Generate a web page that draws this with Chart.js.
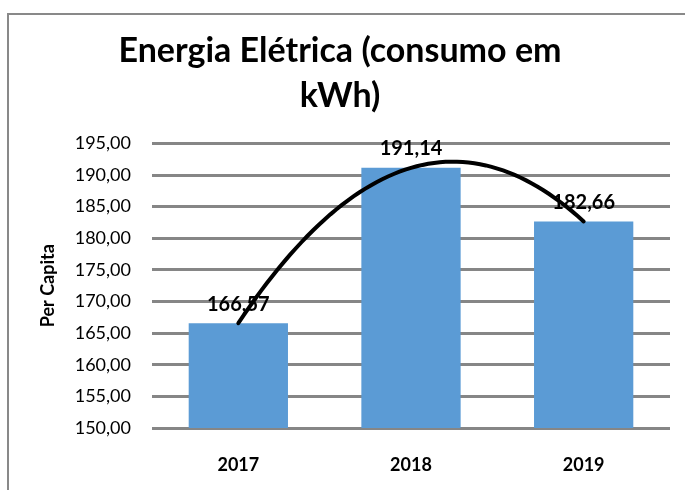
<!DOCTYPE html>
<html>
<head>
<meta charset="utf-8">
<script src="https://cdn.jsdelivr.net/npm/chart.js@4/dist/chart.umd.min.js"></script>
<style>
  html, body { margin: 0; padding: 0; background: #fff; overflow: hidden; }
  #wrap { position: relative; width: 685px; height: 490px; overflow: hidden; }
  #frame { position: absolute; left: 7px; top: 13px; width: 700px; height: 500px;
           border: 2px solid #898989; box-sizing: border-box; pointer-events: none; }
  canvas { position: absolute; left: 0; top: 0; }
</style>
</head>
<body>
<div id="wrap">
  <canvas id="chart" width="685" height="490"></canvas>
  <div id="frame"></div>
</div>
<script>
const years = ['2017', '2018', '2019'];
const perCapita = [166.57, 191.14, 182.66];
const yMin = 150;
const yMax = 195;
const yStep = 5;
const titleLines = ['Energia Elétrica (consumo em', 'kWh)'];

const FONT = 'Lato, "Noto Sans", sans-serif';
const fmt = v => v.toFixed(2).replace('.', ',');

// value labels above each bar
const valueLabels = {
  id: 'valueLabels',
  afterDatasetsDraw(chart) {
    const ctx = chart.ctx;
    const meta = chart.getDatasetMeta(0);
    ctx.save();
    ctx.font = 'bold 20px ' + FONT;
    ctx.fillStyle = '#000';
    ctx.textAlign = 'center';
    ctx.textBaseline = 'middle';
    meta.data.forEach((bar, i) => {
      ctx.fillText(fmt(perCapita[i]), bar.x, bar.y - 19);
    });
    ctx.restore();
  }
};

// polynomial (order 2) trendline, like the spreadsheet one
const trendLine = {
  id: 'trendLine',
  afterDatasetsDraw(chart) {
    const xs = chart.scales.x, ys = chart.scales.y;
    const n = perCapita.length;
    // least squares fit y = a + b*t + c*t^2, t = index
    let s = [0, 0, 0, 0, 0], r = [0, 0, 0];
    perCapita.forEach((y, t) => {
      for (let k = 0; k < 5; k++) s[k] += Math.pow(t, k);
      for (let k = 0; k < 3; k++) r[k] += y * Math.pow(t, k);
    });
    const M = [[s[0], s[1], s[2], r[0]], [s[1], s[2], s[3], r[1]], [s[2], s[3], s[4], r[2]]];
    for (let i = 0; i < 3; i++) {
      for (let j = i + 1; j < 3; j++) {
        const f = M[j][i] / M[i][i];
        for (let k = i; k < 4; k++) M[j][k] -= f * M[i][k];
      }
    }
    const c = [0, 0, 0];
    for (let i = 2; i >= 0; i--) {
      let v = M[i][3];
      for (let k = i + 1; k < 3; k++) v -= M[i][k] * c[k];
      c[i] = v / M[i][i];
    }
    const ctx = chart.ctx;
    ctx.save();
    ctx.strokeStyle = '#000';
    ctx.lineWidth = 4;
    ctx.lineCap = 'round';
    ctx.beginPath();
    const steps = 60;
    for (let i = 0; i <= steps; i++) {
      const t = (n - 1) * i / steps;
      const px = xs.getPixelForValue(t);
      const py = ys.getPixelForValue(c[0] + c[1] * t + c[2] * t * t);
      if (i === 0) ctx.moveTo(px, py); else ctx.lineTo(px, py);
    }
    ctx.stroke();
    ctx.restore();
  }
};

new Chart(document.getElementById('chart'), {
  type: 'bar',
  data: {
    labels: years,
    datasets: [{
      data: perCapita,
      backgroundColor: '#5b9bd5',
      borderWidth: 0,
      categoryPercentage: 1,
      barPercentage: 0.575
    }]
  },
  options: {
    responsive: false,
    animation: false,
    layout: { padding: { left: 10, right: 15, top: 0, bottom: 0 } },
    plugins: {
      legend: { display: false },
      tooltip: { enabled: false },
      title: {
        display: true,
        text: titleLines,
        color: '#000',
        font: { family: FONT, size: 34, weight: 'bold', lineHeight: 1.33 },
        padding: { top: 28, bottom: 25 }
      }
    },
    scales: {
      x: {
        grid: { display: false },
        border: { display: false },
        ticks: { color: '#000', padding: 18, font: { family: FONT, size: 18, weight: 'bold' } },
        afterFit(scale) { scale.height = 62; }
      },
      y: {
        min: yMin,
        max: yMax,
        border: { display: false },
        grid: { color: '#868686', lineWidth: 3, drawTicks: false },
        ticks: {
          stepSize: yStep,
          color: '#000',
          padding: 21,
          font: { family: FONT, size: 18 },
          callback: v => fmt(v)
        },
        title: {
          display: true,
          text: 'Per Capita',
          color: '#000',
          font: { family: FONT, size: 18, weight: 'bold' },
          padding: { top: 27, bottom: 0 }
        },
        afterFit(scale) { scale.width = 142; }
      }
    }
  },
  plugins: [valueLabels, trendLine]
});
</script>
</body>
</html>
